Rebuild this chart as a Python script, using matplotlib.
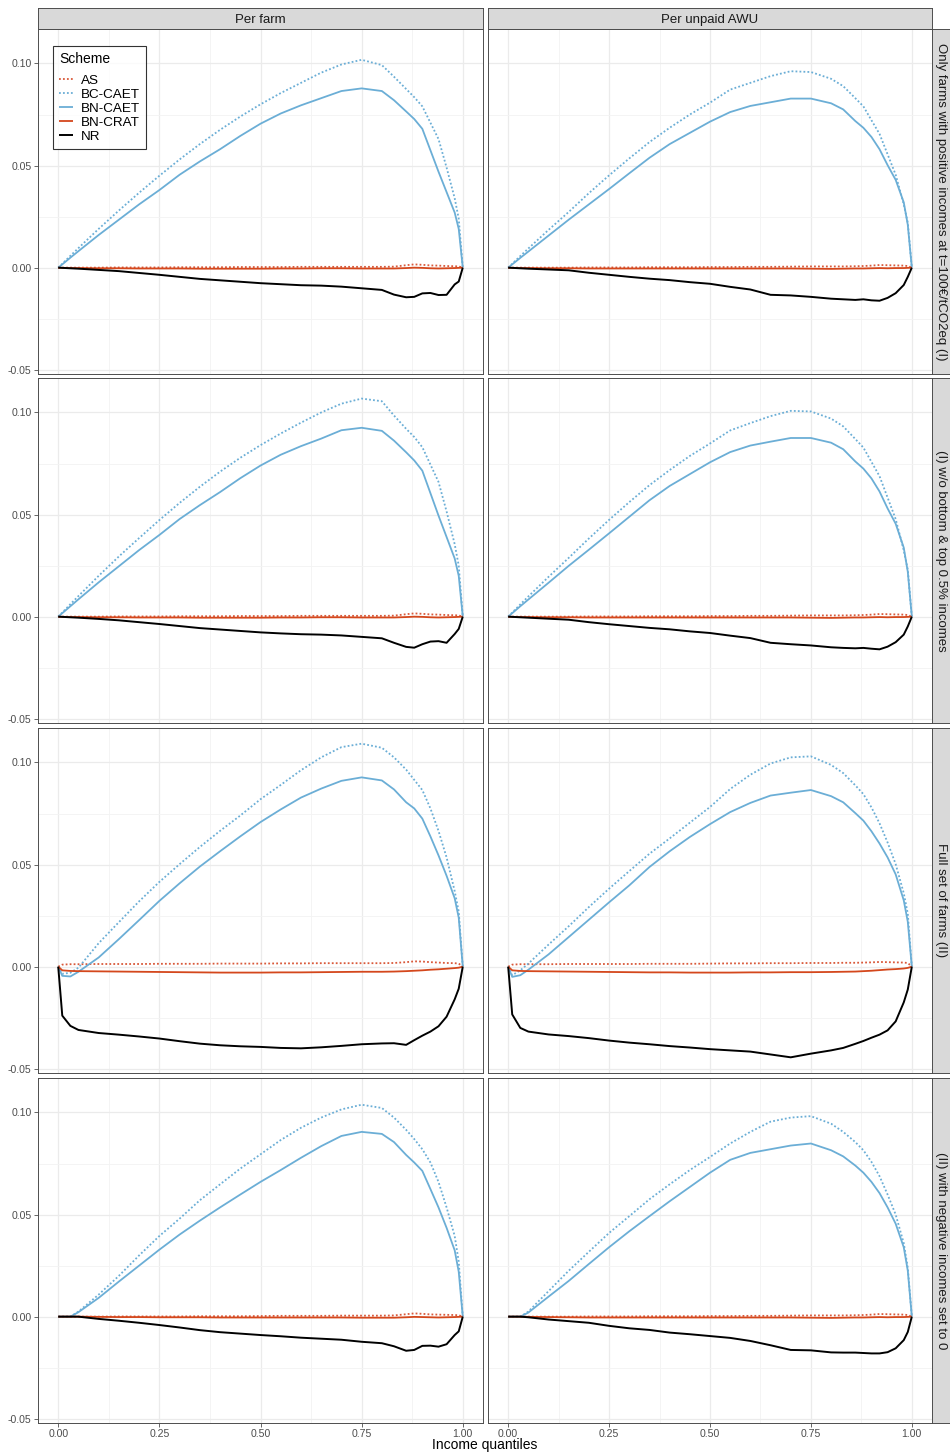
import matplotlib
matplotlib.use("Agg")
import matplotlib.pyplot as plt
import numpy as np

plt.rcParams['font.family'] = ['Liberation Sans', 'DejaVu Sans']

# income quantile grid shared by all curves
Q = [0, 0.01, 0.03, 0.05, 0.1, 0.15, 0.2, 0.25, 0.3, 0.35, 0.4, 0.45, 0.5, 0.55,
     0.6, 0.65, 0.7, 0.75, 0.8, 0.83, 0.86, 0.88, 0.9, 0.92, 0.94, 0.96, 0.98, 0.99, 1.0]

COL_LABELS = ["Per farm", "Per unpaid AWU"]
ROW_LABELS = ["Only farms with positive incomes at t=100€/tCO2eq (I)",
              "(I) w/o bottom & top 0.5% incomes",
              "Full set of farms (II)",
              "(II) with negative incomes set to 0"]
SCHEMES = ["AS", "BC-CAET", "BN-CAET", "BN-CRAT", "NR"]

# ---- row 1, per farm
r1_farm_as = [0, 0, 0, 0, 0, 0.0001, 0.0001, 0.0001, 0.0002, 0.0002, 0.0002, 0.0003, 0.0003, 0.0003,
              0.0004, 0.0004, 0.0004, 0.0004, 0.0004, 0.0005, 0.0012, 0.0016, 0.0014, 0.0011, 0.001, 0.0008, 0.0007, 0.0006, 0]
r1_farm_bc = [0, 0.0019, 0.0058, 0.0096, 0.019, 0.028, 0.0367, 0.045, 0.053, 0.0605, 0.0675, 0.074, 0.080, 0.0855,
              0.0905, 0.0955, 0.0995, 0.1018, 0.0992, 0.0935, 0.0875, 0.0835, 0.079, 0.071, 0.063, 0.049, 0.034, 0.024, 0]
r1_farm_bn = [0, 0.0016, 0.0049, 0.0081, 0.016, 0.0235, 0.031, 0.038, 0.0455, 0.052, 0.058, 0.0645, 0.0705, 0.0755,
              0.0795, 0.083, 0.0865, 0.0878, 0.0865, 0.082, 0.0765, 0.0728, 0.068, 0.0575, 0.047, 0.037, 0.027, 0.019, 0]
r1_farm_crat = [0, -0.0001, -0.0002, -0.0002, -0.0003, -0.0003, -0.0004, -0.0004, -0.0004, -0.0005, -0.0005, -0.0005, -0.0005, -0.0004,
                -0.0004, -0.0003, -0.0003, -0.0004, -0.0004, -0.0004, -0.0002, 0.0, -0.0001, -0.0003, -0.0004, -0.0003, -0.0002, -0.0001, 0]
r1_farm_nr = [0, -0.0001, -0.0003, -0.0005, -0.0011, -0.0017, -0.0026, -0.0035, -0.0045, -0.0055, -0.0062, -0.0069, -0.0076, -0.0081,
              -0.0086, -0.0088, -0.0093, -0.0101, -0.0109, -0.0132, -0.0145, -0.0143, -0.0126, -0.0124, -0.0134, -0.0133, -0.0082, -0.0068, 0]

# ---- row 1, per unpaid AWU
r1_awu_as = [0, 0, 0, 0, 0, 0, 0.0001, 0.0001, 0.0001, 0.0002, 0.0002, 0.0002, 0.0003, 0.0003,
             0.0004, 0.0004, 0.0005, 0.0006, 0.0006, 0.0006, 0.0007, 0.0008, 0.001, 0.0013, 0.0012, 0.0011, 0.001, 0.0008, 0]
r1_awu_bc = [0, 0.0019, 0.0057, 0.0094, 0.0185, 0.0273, 0.0365, 0.0452, 0.0535, 0.0615, 0.0685, 0.075, 0.0808, 0.0872,
             0.0905, 0.0938, 0.0962, 0.0958, 0.0925, 0.0889, 0.083, 0.079, 0.0722, 0.0655, 0.0555, 0.0455, 0.031, 0.022, 0]
r1_awu_bn = [0, 0.0016, 0.0048, 0.0079, 0.0157, 0.0235, 0.031, 0.0385, 0.0462, 0.0538, 0.0605, 0.066, 0.0715, 0.0762,
             0.0792, 0.081, 0.0828, 0.0828, 0.0805, 0.0775, 0.0718, 0.0685, 0.064, 0.058, 0.0502, 0.043, 0.032, 0.021, 0]
r1_awu_crat = [0, -0.0001, -0.0002, -0.0002, -0.0003, -0.0003, -0.0004, -0.0004, -0.0004, -0.0004, -0.0004, -0.0004, -0.0004, -0.0004,
               -0.0004, -0.0004, -0.0004, -0.0005, -0.0006, -0.0005, -0.0004, -0.0004, -0.0003, -0.0002, -0.0003, -0.0002, -0.0002, -0.0001, 0]
r1_awu_nr = [0, -0.0001, -0.0003, -0.0005, -0.0009, -0.0013, -0.0025, -0.0035, -0.0045, -0.0054, -0.0061, -0.0071, -0.0079, -0.0094,
             -0.0107, -0.0133, -0.0136, -0.0143, -0.0152, -0.0155, -0.0158, -0.0155, -0.016, -0.0162, -0.0148, -0.0125, -0.0085, -0.0045, 0]

# ---- row 2, per farm
r2_farm_as = r1_farm_as
r2_farm_bc = [0, 0.002, 0.0061, 0.0101, 0.020, 0.0295, 0.0385, 0.0473, 0.0557, 0.0636, 0.071, 0.0778, 0.084, 0.0897,
              0.095, 0.1, 0.1043, 0.1068, 0.1055, 0.0985, 0.092, 0.088, 0.083, 0.0745, 0.066, 0.0515, 0.0355, 0.025, 0]
r2_farm_bn = [0, 0.0017, 0.0051, 0.0085, 0.0168, 0.0247, 0.0326, 0.040, 0.0478, 0.0546, 0.061, 0.0678, 0.074, 0.0793,
              0.0835, 0.0872, 0.0913, 0.0925, 0.091, 0.0862, 0.0805, 0.0765, 0.0715, 0.0605, 0.0495, 0.039, 0.0285, 0.02, 0]
r2_farm_crat = r1_farm_crat
r2_farm_nr = [0, -0.0001, -0.0003, -0.0005, -0.0011, -0.0018, -0.0027, -0.0036, -0.0046, -0.0056, -0.0063, -0.007, -0.0077, -0.0082,
              -0.0086, -0.0088, -0.0092, -0.0099, -0.0106, -0.0128, -0.0148, -0.0152, -0.0135, -0.0122, -0.012, -0.0128, -0.0085, -0.006, 0]

# ---- row 2, per unpaid AWU
r2_awu_as = r1_awu_as
r2_awu_bc = [0, 0.002, 0.006, 0.0099, 0.0195, 0.0288, 0.0383, 0.0474, 0.0561, 0.0644, 0.0718, 0.0787, 0.0848, 0.0912,
             0.0948, 0.0982, 0.1008, 0.1005, 0.097, 0.0932, 0.087, 0.0828, 0.0758, 0.0688, 0.0583, 0.0478, 0.0325, 0.023, 0]
r2_awu_bn = [0, 0.0017, 0.0051, 0.0084, 0.0166, 0.0249, 0.0328, 0.0408, 0.0489, 0.057, 0.064, 0.0698, 0.0756, 0.0806,
             0.0838, 0.0857, 0.0875, 0.0875, 0.0852, 0.082, 0.076, 0.0725, 0.0677, 0.0613, 0.053, 0.0455, 0.0338, 0.022, 0]
r2_awu_crat = r1_awu_crat
r2_awu_nr = [0, -0.0001, -0.0003, -0.0005, -0.001, -0.0015, -0.0027, -0.0037, -0.0046, -0.0055, -0.0062, -0.0072, -0.008, -0.0093,
             -0.0105, -0.0128, -0.0135, -0.0141, -0.015, -0.0153, -0.0155, -0.0153, -0.0157, -0.016, -0.0147, -0.0125, -0.0088, -0.0048, 0]

# ---- row 3, per farm
r3_farm_as = [0, 0.001, 0.0012, 0.0012, 0.0013, 0.0013, 0.0013, 0.0014, 0.0014, 0.0014, 0.0015, 0.0015, 0.0015, 0.0016,
              0.0016, 0.0017, 0.0017, 0.0017, 0.0017, 0.0018, 0.0022, 0.0026, 0.0025, 0.0022, 0.002, 0.0018, 0.0017, 0.0015, 0]
r3_farm_bc = [0, -0.0035, -0.003, -0.0005, 0.0115, 0.0218, 0.032, 0.0415, 0.0502, 0.0586, 0.0665, 0.074, 0.082, 0.089,
              0.0962, 0.1025, 0.1075, 0.1092, 0.1072, 0.1025, 0.0965, 0.0915, 0.0865, 0.0775, 0.0665, 0.0535, 0.037, 0.027, 0]
r3_farm_bn = [0, -0.0045, -0.0048, -0.0025, 0.0045, 0.0135, 0.0228, 0.0322, 0.0408, 0.049, 0.0565, 0.0638, 0.0708, 0.077,
              0.0828, 0.0872, 0.091, 0.0927, 0.0912, 0.0868, 0.0805, 0.0775, 0.0725, 0.0638, 0.0545, 0.0445, 0.0335, 0.024, 0]
r3_farm_crat = [0, -0.0018, -0.0021, -0.0022, -0.0023, -0.0024, -0.0025, -0.0026, -0.0027, -0.0028, -0.0029, -0.0029, -0.0029, -0.0028,
                -0.0028, -0.0027, -0.0026, -0.0025, -0.0025, -0.0024, -0.0022, -0.002, -0.0018, -0.0015, -0.0013, -0.001, -0.0007, -0.0005, 0]
r3_farm_nr = [0, -0.024, -0.029, -0.031, -0.0325, -0.0333, -0.0342, -0.0352, -0.0365, -0.0377, -0.0385, -0.039, -0.0393, -0.0398,
              -0.04, -0.0395, -0.0388, -0.038, -0.0376, -0.0375, -0.0383, -0.036, -0.0338, -0.0318, -0.0292, -0.0245, -0.016, -0.0108, 0]

# ---- row 3, per unpaid AWU
r3_awu_as = [0, 0.001, 0.0012, 0.0012, 0.0012, 0.0013, 0.0013, 0.0013, 0.0013, 0.0014, 0.0014, 0.0014, 0.0015, 0.0016,
             0.0016, 0.0017, 0.0017, 0.0018, 0.0018, 0.0019, 0.0019, 0.002, 0.0021, 0.0023, 0.0022, 0.0021, 0.002, 0.0018, 0]
r3_awu_bc = [0, -0.0042, -0.0018, 0.0015, 0.0108, 0.0198, 0.0292, 0.0382, 0.0468, 0.0553, 0.0628, 0.0705, 0.0782, 0.087,
             0.094, 0.0995, 0.1025, 0.103, 0.0988, 0.0948, 0.0888, 0.0845, 0.078, 0.0702, 0.0608, 0.0502, 0.036, 0.026, 0]
r3_awu_bn = [0, -0.005, -0.0042, -0.0015, 0.006, 0.0145, 0.023, 0.0315, 0.0398, 0.0488, 0.0565, 0.0635, 0.0698, 0.0757,
             0.0802, 0.0838, 0.0852, 0.0865, 0.0835, 0.0805, 0.0752, 0.0715, 0.0663, 0.0603, 0.0535, 0.0452, 0.0325, 0.022, 0]
r3_awu_crat = [0, -0.0018, -0.0021, -0.0022, -0.0023, -0.0024, -0.0025, -0.0026, -0.0027, -0.0028, -0.0028, -0.0029, -0.0029, -0.0029,
               -0.0028, -0.0028, -0.0027, -0.0027, -0.0026, -0.0025, -0.0024, -0.0022, -0.002, -0.0017, -0.0014, -0.0012, -0.0009, -0.0006, 0]
r3_awu_nr = [0, -0.0234, -0.03, -0.0318, -0.0332, -0.034, -0.035, -0.0362, -0.0372, -0.038, -0.0389, -0.0396, -0.0404, -0.041,
             -0.0416, -0.043, -0.0444, -0.0426, -0.041, -0.0398, -0.0378, -0.0364, -0.0348, -0.0333, -0.0312, -0.0268, -0.0175, -0.0112, 0]

# ---- row 4, per farm
r4_farm_as = [0, 0, 0, 0, 0, 0.0001, 0.0001, 0.0001, 0.0001, 0.0002, 0.0002, 0.0002, 0.0003, 0.0004,
              0.0004, 0.0004, 0.0005, 0.0005, 0.0005, 0.0006, 0.0012, 0.0016, 0.0014, 0.0011, 0.001, 0.0009, 0.0008, 0.0007, 0]
r4_farm_bc = [0, 0, 0, 0.0025, 0.0108, 0.02, 0.030, 0.0395, 0.048, 0.057, 0.0648, 0.0725, 0.0795, 0.0865,
              0.0925, 0.0975, 0.1015, 0.1038, 0.1022, 0.0975, 0.0915, 0.087, 0.082, 0.0755, 0.066, 0.0535, 0.0395, 0.027, 0]
r4_farm_bn = [0, 0, 0, 0.0022, 0.0092, 0.0172, 0.025, 0.0328, 0.0402, 0.047, 0.0535, 0.0598, 0.066, 0.0718,
              0.0778, 0.0835, 0.0885, 0.0905, 0.0895, 0.0855, 0.0792, 0.0755, 0.0714, 0.0625, 0.0535, 0.0435, 0.0325, 0.022, 0]
r4_farm_crat = [0, 0, 0, 0, -0.0001, -0.0002, -0.0002, -0.0003, -0.0003, -0.0003, -0.0004, -0.0004, -0.0004, -0.0004,
                -0.0004, -0.0004, -0.0004, -0.0005, -0.0005, -0.0005, -0.0003, -0.0001, -0.0002, -0.0003, -0.0004, -0.0003, -0.0002, -0.0001, 0]
r4_farm_nr = [0, 0, 0, 0, -0.0011, -0.002, -0.003, -0.0041, -0.0053, -0.0066, -0.0076, -0.0083, -0.009, -0.0096,
              -0.0103, -0.0108, -0.0113, -0.0123, -0.013, -0.0145, -0.0167, -0.0163, -0.0143, -0.0142, -0.0147, -0.0135, -0.009, -0.0072, 0]

# ---- row 4, per unpaid AWU
r4_awu_as = r1_awu_as
r4_awu_bc = [0, 0, 0, 0.0025, 0.0125, 0.0225, 0.0318, 0.041, 0.0492, 0.0575, 0.0648, 0.0718, 0.0782, 0.0848,
             0.0905, 0.0955, 0.0975, 0.0982, 0.0945, 0.0905, 0.0855, 0.0815, 0.0758, 0.0688, 0.0598, 0.05, 0.036, 0.024, 0]
r4_awu_bn = [0, 0, 0, 0.002, 0.0098, 0.0175, 0.0258, 0.034, 0.0418, 0.0492, 0.0565, 0.0635, 0.0705, 0.0768,
             0.0802, 0.082, 0.0838, 0.0848, 0.0815, 0.0785, 0.074, 0.0705, 0.066, 0.0605, 0.0535, 0.0455, 0.034, 0.0225, 0]
r4_awu_crat = [0, 0, 0, -0.0001, -0.0002, -0.0003, -0.0004, -0.0004, -0.0004, -0.0004, -0.0004, -0.0004, -0.0004, -0.0004,
               -0.0004, -0.0004, -0.0004, -0.0005, -0.0006, -0.0005, -0.0004, -0.0004, -0.0003, -0.0002, -0.0003, -0.0002, -0.0002, -0.0001, 0]
r4_awu_nr = [0, 0, 0, -0.0003, -0.0014, -0.0022, -0.003, -0.0045, -0.0057, -0.0065, -0.0078, -0.0086, -0.0095, -0.0104,
             -0.0119, -0.014, -0.0163, -0.0165, -0.0175, -0.0176, -0.0176, -0.0178, -0.018, -0.018, -0.0174, -0.0155, -0.0115, -0.0075, 0]

panels = [
    [(r1_farm_as, r1_farm_bc, r1_farm_bn, r1_farm_crat, r1_farm_nr), (r1_awu_as, r1_awu_bc, r1_awu_bn, r1_awu_crat, r1_awu_nr)],
    [(r2_farm_as, r2_farm_bc, r2_farm_bn, r2_farm_crat, r2_farm_nr), (r2_awu_as, r2_awu_bc, r2_awu_bn, r2_awu_crat, r2_awu_nr)],
    [(r3_farm_as, r3_farm_bc, r3_farm_bn, r3_farm_crat, r3_farm_nr), (r3_awu_as, r3_awu_bc, r3_awu_bn, r3_awu_crat, r3_awu_nr)],
    [(r4_farm_as, r4_farm_bc, r4_farm_bn, r4_farm_crat, r4_farm_nr), (r4_awu_as, r4_awu_bc, r4_awu_bn, r4_awu_crat, r4_awu_nr)],
]

# line styles per scheme
styles = {
    "AS": dict(color="#D9593A", ls=(0, (1, 1.2)), lw=1.3),
    "BC-CAET": dict(color="#6BAED6", ls=(0, (1, 1.2)), lw=1.3),
    "BN-CAET": dict(color="#6BAED6", ls="-", lw=1.3),
    "BN-CRAT": dict(color="#D4471C", ls="-", lw=1.3),
    "NR": dict(color="black", ls="-", lw=1.4),
}

# shared y-range with ggplot-like 5% expansion
allv = np.concatenate([np.array(s) for row in panels for p in row for s in p])
span = allv.max() - allv.min()
ylo, yhi = allv.min() - 0.05 * span, allv.max() + 0.05 * span

W, H = 950, 1454
fig = plt.figure(figsize=(W / 100, H / 100), dpi=100)

col_x = [(38, 445), (488, 444)]
row_top = [29, 378, 728, 1078]
ph = 345

def fa(x, y, w, h):
    return [x / W, 1 - (y + h) / H, w / W, h / H]

border = "#4D4D4D"
axes = []
for r in range(4):
    for c in range(2):
        x0, pw = col_x[c]
        ax = fig.add_axes(fa(x0, row_top[r], pw, ph))
        ax.set_facecolor("white")
        ax.set_xlim(-0.05, 1.05)
        ax.set_ylim(ylo, yhi)
        ax.set_xticks([0, 0.25, 0.5, 0.75, 1.0])
        ax.set_xticks([0.125, 0.375, 0.625, 0.875], minor=True)
        ax.set_yticks([-0.05, 0, 0.05, 0.10])
        ax.set_yticks([-0.025, 0.025, 0.075], minor=True)
        ax.grid(which="major", color="#EBEBEB", lw=0.9)
        ax.grid(which="minor", color="#F3F3F3", lw=0.6)
        ax.set_axisbelow(True)
        for sp in ax.spines.values():
            sp.set_color(border)
            sp.set_linewidth(0.7)
            sp.set_zorder(5)
        ax.tick_params(which="minor", length=0)
        ax.tick_params(which="major", length=3, width=0.6, color=border,
                       labelsize=7.6, labelcolor="#4D4D4D", pad=1.5)
        if c == 0:
            ax.set_yticklabels(["-0.05", "0.00", "0.05", "0.10"])
        else:
            ax.tick_params(axis="y", left=False, labelleft=False)
        if r == 3:
            ax.set_xticklabels(["0.00", "0.25", "0.50", "0.75", "1.00"])
        else:
            ax.tick_params(axis="x", bottom=False, labelbottom=False)

        for name, vals in zip(SCHEMES, panels[r][c]):
            st = styles[name]
            ax.plot(Q, vals, color=st["color"], linestyle=st["ls"], lw=st["lw"],
                    label=name, solid_capstyle="butt", solid_joinstyle="round")
        axes.append(ax)

        # right-hand strips
        if c == 1:
            sax = fig.add_axes(fa(932, row_top[r], 20, ph))
            sax.set_facecolor("#D9D9D9")
            sax.set_xticks([]); sax.set_yticks([])
            for sp in sax.spines.values():
                sp.set_color(border); sp.set_linewidth(0.7)
            sax.text(0.45, 0.5, ROW_LABELS[r], rotation=-90, ha="center", va="center",
                     transform=sax.transAxes, fontsize=9.5, color="#1A1A1A")

# top strips
for c in range(2):
    x0, pw = col_x[c]
    sax = fig.add_axes(fa(x0, 8, pw, 21))
    sax.set_facecolor("#D9D9D9")
    sax.set_xticks([]); sax.set_yticks([])
    for sp in sax.spines.values():
        sp.set_color(border); sp.set_linewidth(0.7)
    sax.text(0.5, 0.45, COL_LABELS[c], ha="center", va="center",
             transform=sax.transAxes, fontsize=9.5, color="#1A1A1A")

fig.text(485 / W, 1 - 1445 / H, "Income quantiles", ha="center", va="center",
         fontsize=10, color="black")

leg = axes[0].legend(title="Scheme", loc="upper left", bbox_to_anchor=(0.034, 0.951),
                     borderaxespad=0, frameon=True, fancybox=False, fontsize=9.7,
                     title_fontsize=10, handlelength=1.0, handletextpad=0.6,
                     labelspacing=0.12, borderpad=0.45)
leg.get_frame().set_edgecolor("black")
leg.get_frame().set_linewidth(0.8)
leg._legend_box.align = "left"
leg._legend_box.sep = 6

fig.savefig("out.png", dpi=100)
